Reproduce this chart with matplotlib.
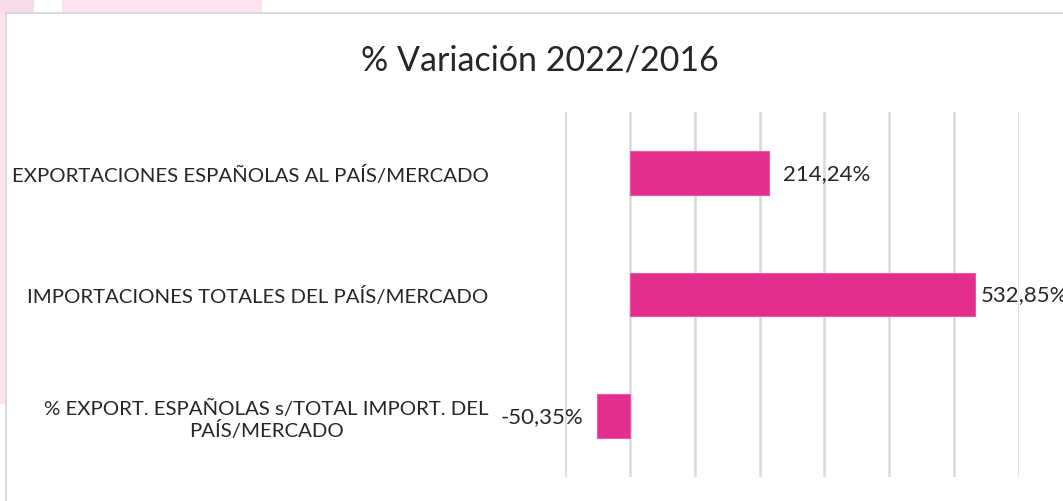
import matplotlib
matplotlib.use("Agg")
import matplotlib.pyplot as plt
from matplotlib.patches import Rectangle

plt.rcParams['font.family'] = ['Lato', 'DejaVu Sans']

categorias = ["EXPORTACIONES ESPAÑOLAS AL PAÍS/MERCADO",
              "IMPORTACIONES TOTALES DEL PAÍS/MERCADO",
              "% EXPORT. ESPAÑOLAS s/TOTAL IMPORT. DEL\nPAÍS/MERCADO"]
variacion = [214.24, 532.85, -50.35]
etiquetas = ["214,24%", "532,85%", "-50,35%"]
titulo = "% Variación 2022/2016"

W, H = 1063, 502
fig = plt.figure(figsize=(W / 100, H / 100), dpi=100)
fig.patch.set_facecolor("white")

# fondo rosa decorativo fuera del marco
rosa = "#fbe4ef"
fig.add_artist(Rectangle((0, 1 - 405 / H), 7 / W, 405 / H, transform=fig.transFigure,
                         facecolor=rosa, edgecolor="none", zorder=-2))
fig.add_artist(Rectangle((0, 1 - 14 / H), 34 / W, 14 / H, transform=fig.transFigure,
                         facecolor="#f9dcea", edgecolor="none", zorder=-2))
fig.add_artist(Rectangle((62 / W, 1 - 14 / H), 200 / W, 14 / H, transform=fig.transFigure,
                         facecolor=rosa, edgecolor="none", zorder=-2))
# marco del grafico
fig.add_artist(Rectangle((6 / W, -0.1), 1.2, 1 - 14 / H + 0.1, transform=fig.transFigure,
                         facecolor="white", edgecolor="#d9d9d9", linewidth=1.5, zorder=-1))

ax = fig.add_axes([565 / W, (H - 478) / H, (1019 - 565) / W, (478 - 113) / H])
ax.set_facecolor("none")
ax.set_zorder(1)

y = range(len(categorias))
ax.barh(y, variacion, height=0.36, color="#e32e8f", edgecolor="#e85aa6", linewidth=0.8, zorder=3)

ax.set_xlim(-100, 600)
ax.set_ylim(2.5, -0.5)
ax.set_xticks(range(-100, 601, 100))
ax.xaxis.grid(True, color="#d9d9d9", linewidth=1.8, zorder=0)
ax.tick_params(axis="x", length=0, labelbottom=False)
ax.tick_params(axis="y", length=0, pad=55)
ax.set_yticks(list(y))
ax.set_yticklabels(categorias, fontsize=14.7, color="#262626", multialignment="center")
for s in ax.spines.values():
    s.set_visible(False)

vmax = max(variacion)
for i, (v, t) in enumerate(zip(variacion, etiquetas)):
    if v >= 0:
        # como en excel, la etiqueta del valor mayor se pega a la barra
        dx = 4 if v == vmax else 10
        ax.annotate(t, (v, i), xytext=(dx, 0), textcoords="offset points",
                    ha="left", va="center", fontsize=16, color="#262626", annotation_clip=False)
    else:
        ax.annotate(t, (v, i), xytext=(-10, 0), textcoords="offset points",
                    ha="right", va="center", fontsize=16, color="#262626", annotation_clip=False)

fig.text(540 / W, 1 - 60 / H, titulo, ha="center", va="center", fontsize=24.5, color="#262626")

fig.savefig("out.png", dpi=100)
